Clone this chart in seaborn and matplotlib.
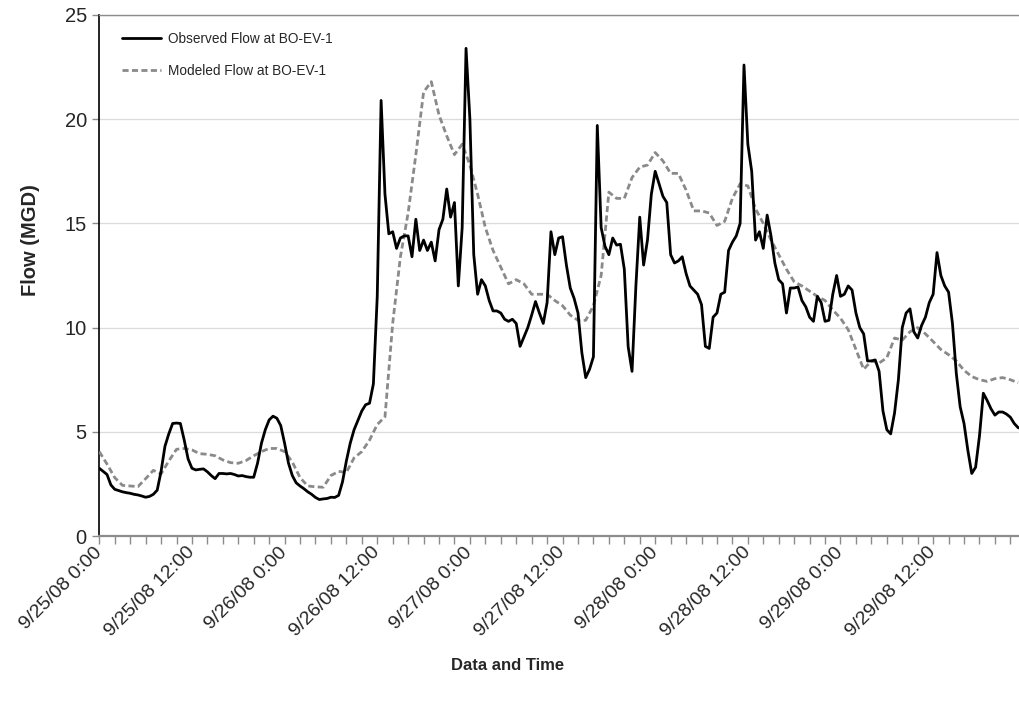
import numpy as np
import pandas as pd
import matplotlib
matplotlib.use("Agg")
import matplotlib.pyplot as plt
import matplotlib.dates as mdates
from matplotlib.ticker import FuncFormatter
import seaborn as sns

# Flow records at BO-EV-1, starting 9/25/2008 0:00
start = pd.Timestamp("2008-09-25 00:00")

# Observed flow (MGD), 30-minute readings
observed_flow = [
    3.25, 3.10, 2.95, 2.45, 2.24, 2.18, 2.12, 2.08, 2.05, 2.00, 1.97, 1.92,
    1.86, 1.90, 2.00, 2.20, 3.10, 4.30, 4.90, 5.40, 5.42, 5.40, 4.60, 3.70,
    3.25, 3.17, 3.20, 3.22, 3.08, 2.90, 2.75, 3.00, 3.00, 2.98, 3.00, 2.95,
    2.88, 2.90, 2.85, 2.82, 2.82, 3.50, 4.45, 5.10, 5.57, 5.75, 5.65, 5.30,
    4.45, 3.50, 2.90, 2.55, 2.40, 2.27, 2.12, 2.00, 1.85, 1.75, 1.78, 1.80,
    1.86, 1.85, 1.95, 2.60, 3.60, 4.45, 5.10, 5.55, 6.00, 6.30, 6.37, 7.30,
    11.5, 20.9, 16.4, 14.5, 14.6, 13.8, 14.3, 14.4, 14.4, 13.4, 15.2, 13.7,
    14.2, 13.7, 14.1, 13.2, 14.7, 15.2, 16.65, 15.3, 16.0, 12.0, 14.8, 23.4,
    20.0, 13.5, 11.6, 12.3, 12.0, 11.3, 10.8, 10.8, 10.7, 10.4, 10.3, 10.4,
    10.2, 9.1, 9.55, 10.0, 10.6, 11.25, 10.7, 10.2, 11.2, 14.6, 13.5, 14.3,
    14.36, 13.0, 11.9, 11.4, 10.7, 8.8, 7.6, 8.0, 8.6, 19.7, 14.8, 13.9,
    13.5, 14.3, 13.96, 14.0, 12.8, 9.08, 7.9, 12.0, 15.3, 13.0, 14.2, 16.4,
    17.5, 16.9, 16.3, 16.0, 13.5, 13.1, 13.2, 13.4, 12.6, 12.0, 11.8, 11.6,
    11.1, 9.1, 9.0, 10.5, 10.7, 11.6, 11.7, 13.7, 14.1, 14.4, 15.0, 22.6,
    18.8, 17.5, 14.2, 14.6, 13.8, 15.4, 14.4, 13.1, 12.3, 12.1, 10.7, 11.9,
    11.9, 11.95, 11.3, 11.0, 10.5, 10.3, 11.5, 11.2, 10.3, 10.35, 11.6, 12.5,
    11.5, 11.6, 12.0, 11.8, 10.7, 10.0, 9.7, 8.4, 8.4, 8.45, 7.9, 6.0,
    5.1, 4.9, 5.9, 7.5, 10.0, 10.7, 10.9, 9.8, 9.5, 10.1, 10.5, 11.2,
    11.6, 13.6, 12.5, 12.0, 11.7, 10.2, 7.8, 6.2, 5.4, 4.1, 3.0, 3.3,
    4.8, 6.85, 6.5, 6.1, 5.8, 5.95, 5.95, 5.85, 5.7, 5.4, 5.2, 5.15,
]

# Modeled flow (MGD), hourly output
modeled_flow = [
    4.05, 3.45, 2.80, 2.43, 2.40, 2.37, 2.75, 3.15, 2.98, 3.60, 4.16, 4.20,
    4.13, 3.95, 3.92, 3.85, 3.65, 3.52, 3.49, 3.62, 3.85, 4.05, 4.20, 4.20,
    4.05, 3.55, 2.80, 2.40, 2.36, 2.34, 2.90, 3.10, 3.05, 3.75, 4.05, 4.60,
    5.35, 5.72, 10.2, 13.4, 15.5, 18.3, 21.3, 21.8, 20.2, 19.2, 18.3, 18.8,
    17.8, 16.4, 14.8, 13.7, 12.9, 12.1, 12.3, 12.1, 11.6, 11.6, 11.6, 11.3,
    11.05, 10.6, 10.35, 10.35, 11.05, 12.5, 16.5, 16.2, 16.2, 17.2, 17.7, 17.8,
    18.4, 18.0, 17.4, 17.4, 16.6, 15.6, 15.6, 15.5, 14.9, 15.1, 16.2, 16.9,
    16.8, 15.7, 15.0, 14.2, 13.5, 12.8, 12.2, 12.0, 11.75, 11.5, 11.3, 10.85,
    10.45, 9.9, 8.95, 8.0, 8.4, 8.3, 8.55, 9.5, 9.4, 9.8, 10.0, 9.7,
    9.33, 8.95, 8.7, 8.4, 7.95, 7.65, 7.5, 7.42, 7.55, 7.6, 7.5, 7.35,
]

series_labels = ["Observed Flow at BO-EV-1", "Modeled Flow at BO-EV-1"]
y_ticks = [0, 5, 10, 15, 20, 25]

obs_df = pd.DataFrame({
    "time": pd.date_range(start, periods=len(observed_flow), freq="30min"),
    "flow": observed_flow,
})
mod_df = pd.DataFrame({
    "time": pd.date_range(start, periods=len(modeled_flow), freq="1h"),
    "flow": modeled_flow,
})

sns.set_theme(style="white")
plt.rcParams["font.family"] = ["Liberation Sans", "DejaVu Sans"]

W, H = 1020, 708
fig = plt.figure(figsize=(W / 100, H / 100), dpi=100)
left, right, top, bottom = 99.3, 1020, 15, 536
ax = fig.add_axes([left / W, 1 - bottom / H, (right - left) / W, (bottom - top) / H])

sns.lineplot(data=obs_df, x="time", y="flow", ax=ax, color="black",
             linewidth=2.0, label=series_labels[0], zorder=4)
sns.lineplot(data=mod_df, x="time", y="flow", ax=ax, color="#8a8a8a",
             linewidth=2.0, label=series_labels[1], zorder=3)
mod_line = ax.get_lines()[1]
mod_line.set_linestyle((0, (2.2, 1.2)))

ax.set_xlim(start, start + pd.Timedelta(hours=119.25))
ax.set_ylim(0, 25)
ax.set_yticks(y_ticks)

# Light horizontal gridlines
ax.yaxis.grid(True, color="#dcdcdc", linewidth=1.0)
ax.xaxis.grid(False)
ax.set_axisbelow(True)

# Ticks: labels every 12 hours, marks every 2 hours
ax.xaxis.set_major_locator(mdates.HourLocator(byhour=[0, 12]))
ax.xaxis.set_minor_locator(mdates.HourLocator(byhour=range(0, 24, 2)))


def fmt_time(x, pos=None):
    d = mdates.num2date(x)
    return f"{d.month}/{d.day}/{d:%y} {d.hour}:{d:%M}"


ax.xaxis.set_major_formatter(FuncFormatter(fmt_time))
ax.tick_params(axis="x", which="both", direction="out", length=6, width=1,
               color="#8c8c8c", bottom=True)
ax.tick_params(axis="x", which="major", labelsize=14, pad=4)
ax.tick_params(axis="y", direction="out", length=5, width=1, color="#8c8c8c",
               left=True, labelsize=14.5, pad=4)
for lbl in ax.get_xticklabels():
    lbl.set_rotation(45)
    lbl.set_ha("right")
    lbl.set_va("center")
    lbl.set_rotation_mode("anchor")

ax.spines["right"].set_visible(False)
ax.spines["left"].set_color("black")
ax.spines["left"].set_linewidth(1.2)
ax.spines["bottom"].set_color("#8c8c8c")
ax.spines["bottom"].set_linewidth(1.6)
ax.spines["top"].set_color("#8c8c8c")
ax.spines["top"].set_linewidth(1.0)

ax.set_xlabel("")
ax.set_ylabel("Flow (MGD)", fontsize=14.5, fontweight="bold")
ax.yaxis.set_label_coords((40 - left) / (right - left), (bottom - 240) / (bottom - top))
fig.text(508 / W, 1 - 665 / H, "Data and Time", ha="center", va="center",
         fontsize=12, fontweight="bold")

leg = ax.legend(loc="upper left",
                bbox_to_anchor=((122 - left) / (right - left), (bottom - 32) / (bottom - top)),
                frameon=False, fontsize=9.8, handlelength=2.9, handletextpad=0.5,
                labelspacing=1.3, borderpad=0, borderaxespad=0)
for h in leg.get_lines():
    h.set_linewidth(2.0)

fig.savefig("out.png", dpi=100)
